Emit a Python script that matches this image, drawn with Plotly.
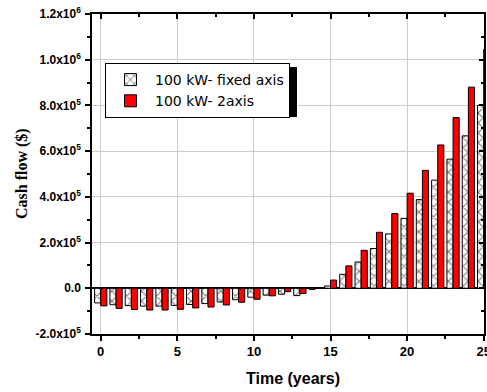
import plotly.graph_objects as go

years = list(range(0, 26))
fixed_axis = [-64000, -72000, -76000, -78000, -78000, -75000, -71000, -67000, -60000, -50000,
              -39000, -30000, -26000, -32000, -5000, 10000, 61000, 115000, 174000, 238000,
              306000, 388000, 473000, 565000, 667000, 800000]
two_axis = [-77000, -88000, -93000, -95000, -95000, -92000, -86000, -82000, -73000, -61000,
            -48000, -33000, -15000, -23000, 3000, 36000, 98000, 166000, 245000, 327000,
            416000, 516000, 627000, 747000, 880000, 1046000]
series_names = ["100 kW- fixed axis", "100 kW- 2axis"]
x_ticks = [0, 5, 10, 15, 20, 25]
y_ticks = [-200000, 0, 200000, 400000, 600000, 800000, 1000000, 1200000]


def sci(v):
    if v == 0:
        return "0.0"
    sign = "-" if v < 0 else ""
    a = abs(v)
    e = len(str(int(a))) - 1
    m = a / 10 ** e
    return f"{sign}{m:.1f}x10<sup>{e}</sup>"


y_text = [sci(v) for v in y_ticks]

W, H = 487, 392
L, R, T, B = 92, 3, 14, 58
PW, PH = W - L - R, H - T - B

fig = go.Figure()
fig.add_trace(go.Bar(
    x=years, y=fixed_axis, name=series_names[0], cliponaxis=False,
    marker=dict(color="white", line=dict(color="black", width=1),
                pattern=dict(shape="x", fgcolor="black", bgcolor="white", size=7, solidity=0.3)),
))
fig.add_trace(go.Bar(
    x=years, y=two_axis, name=series_names[1], cliponaxis=False,
    marker=dict(color="#ff0000", line=dict(color="black", width=1)),
))
fig.add_trace(go.Scatter(x=[], y=[], xaxis="x2", yaxis="y2", showlegend=False))

bold = dict(family="Liberation Sans, Arial", size=12, color="black", weight="bold")
xr = [-0.57, 25.02]
yr = [-200000, 1200000]

fig.update_layout(
    width=W, height=H,
    margin=dict(l=L, r=R, t=T, b=B, autoexpand=False),
    paper_bgcolor="white", plot_bgcolor="white",
    barmode="group", bargap=0.2, bargroupgap=0,
    showlegend=True,
    legend=dict(x=(105 - L) / PW, y=1 - (63 - T) / PH, xanchor="left", yanchor="top",
                bgcolor="white", bordercolor="black", borderwidth=1,
                font=dict(family="DejaVu Sans", size=14, color="black"),
                itemwidth=39, tracegroupgap=0),
    xaxis=dict(range=xr, tickvals=x_ticks, ticktext=[str(v) for v in x_ticks], automargin=False,
               ticklabeloverflow="allow",
               ticks="outside", ticklen=5, tickwidth=1.5, tickcolor="black",
               minor=dict(dtick=2.5, tick0=0, ticks="outside", ticklen=3, tickcolor="black", showgrid=False),
               showline=True, linecolor="black", linewidth=1.5, mirror=True,
               showgrid=True, gridcolor="#cccccc", gridwidth=1, zeroline=False,
               tickfont=dict(family="Liberation Sans, Arial", size=13, color="black", weight="bold")),
    yaxis=dict(range=yr, tickvals=y_ticks, ticktext=y_text, automargin=False,
               ticklabeloverflow="allow",
               ticks="outside", ticklen=5, tickwidth=1.5, tickcolor="black",
               minor=dict(dtick=100000, tick0=0, ticks="outside", ticklen=3, tickcolor="black", showgrid=False),
               showline=True, linecolor="black", linewidth=1.5, mirror=True,
               showgrid=True, gridcolor="#cccccc", gridwidth=1,
               zeroline=True, zerolinecolor="black", zerolinewidth=1.5,
               tickfont=bold, ticklabelstandoff=2),
    xaxis2=dict(range=xr, overlaying="x", side="top", anchor="y", tickvals=x_ticks, automargin=False,
                ticks="inside", ticklen=5, tickwidth=1.5, tickcolor="black", showticklabels=False,
                minor=dict(dtick=2.5, tick0=0, ticks="inside", ticklen=3, tickcolor="black", showgrid=False),
                showgrid=False, zeroline=False, showline=False),
    yaxis2=dict(range=yr, overlaying="y", side="right", anchor="x", tickvals=y_ticks, automargin=False,
                ticks="inside", ticklen=5, tickwidth=1.5, tickcolor="black", showticklabels=False,
                minor=dict(dtick=100000, tick0=0, ticks="inside", ticklen=3, tickcolor="black", showgrid=False),
                showgrid=False, zeroline=False, showline=False),
    annotations=[
        dict(text="Time (years)", xref="paper", yref="paper",
             x=(293 - L) / PW, y=-(378 - (H - B)) / PH,
             xanchor="center", yanchor="middle", showarrow=False,
             font=dict(family="Liberation Sans, Arial", size=16, color="black", weight="bold")),
        dict(text="Cash flow ($)", xref="paper", yref="paper",
             x=-(L - 22) / PW, y=1 - (174 - T) / PH,
             xanchor="center", yanchor="middle", showarrow=False, textangle=-90,
             font=dict(family="Liberation Serif, Times New Roman", size=16, color="black", weight="bold")),
    ],
    shapes=[dict(type="rect", xref="paper", yref="paper", layer="above",
                 x0=(109 - L) / PW, x1=(297 - L) / PW,
                 y0=1 - (117 - T) / PH, y1=1 - (67 - T) / PH,
                 fillcolor="black", line=dict(width=0))],
)

fig.write_html("out.html", config={"displayModeBar": False},
               post_script="document.body.style.margin='0px';document.body.style.overflow='hidden';")
